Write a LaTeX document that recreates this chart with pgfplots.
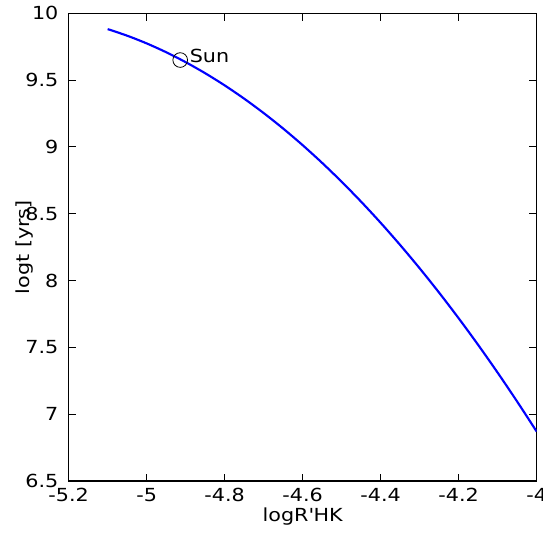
\documentclass[border=0pt]{standalone}
\usepackage{fontspec}
\setmainfont{DejaVu Sans}[FakeStretch=1.15]
\usepackage{pgfplots}
\pgfplotsset{compat=1.18}
\begin{document}
\fontsize{13.5}{16}\selectfont
\begin{tikzpicture}
\useasboundingbox (0,0) rectangle (407.25pt,399.75pt);
\begin{axis}[
  at={(51.5pt,39pt)}, anchor=south west,
  scale only axis, width=351pt, height=350.8pt,
  xmin=-5.2, xmax=-4, ymin=6.5, ymax=10,
  xtick={-5.2,-5,-4.8,-4.6,-4.4,-4.2,-4},
  xticklabels={-5.2,-5,-4.8,-4.6,-4.4,-4.2,-4},
  ytick={6.5,7,7.5,8,8.5,9,9.5,10},
  yticklabels={6.5,7,7.5,8,8.5,9,9.5,10},
  tick align=inside,
  major tick length=5.5pt,
  every tick/.style={black, line width=0.7pt},
  axis line style={black, line width=0.8pt},
  xticklabel style={yshift=-1pt},
  yticklabel style={xshift=-3pt},
  xlabel={logR\textquotesingle HK},
  ylabel={logt [yrs]},
  xlabel style={at={(axis description cs:0.5,0)}, anchor=base, yshift=-30pt},
  ylabel style={at={(axis description cs:-0.0934,0.5)}, anchor=center},
  clip=true,
]
\addplot[blue, line width=1.6pt, smooth] coordinates {
(-5.10,9.8815) (-5.05,9.8322) (-5.00,9.7745) (-4.95,9.7085) (-4.90,9.6341)
(-4.85,9.5514) (-4.80,9.4604) (-4.75,9.3610) (-4.70,9.2533) (-4.65,9.1373)
(-4.60,9.0129) (-4.55,8.8802) (-4.50,8.7391) (-4.45,8.5897) (-4.40,8.4320)
(-4.35,8.2659) (-4.30,8.0915) (-4.25,7.9088) (-4.20,7.7177) (-4.15,7.5183)
(-4.10,7.3105) (-4.05,7.0944) (-4.00,6.8700)
};
\addplot[only marks, mark=o, mark size=5.5pt, black, line width=0.6pt] coordinates {(-4.914,9.650)};
\node[anchor=base west, inner sep=0pt] at (axis cs:-4.890,9.63) {Sun};
\end{axis}
\end{tikzpicture}
\end{document}
